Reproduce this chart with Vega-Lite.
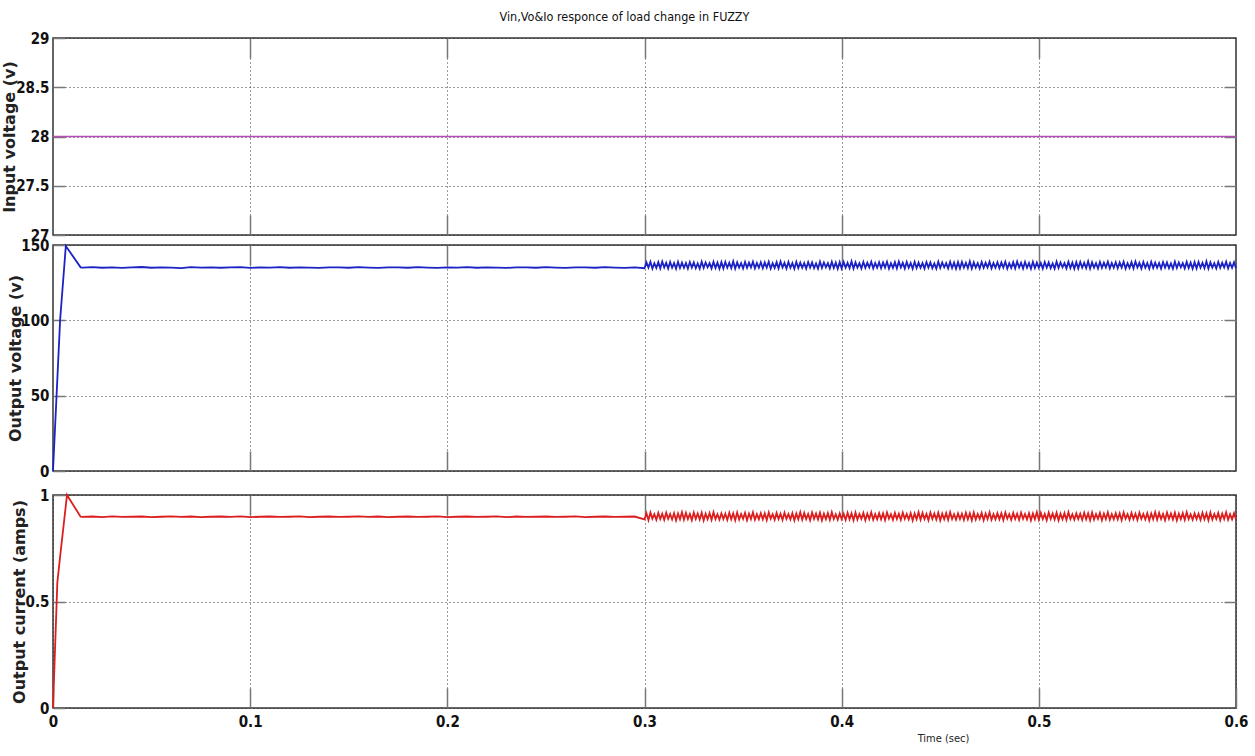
{
"$schema": "https://vega.github.io/schema/vega-lite/v6.json",
"padding": {"left": 0, "top": 10, "right": 2, "bottom": 2},
"background": "white",
"title": {"text": "Vin,Vo&Io responce of load change in FUZZY", "font": "DejaVu Sans Condensed, Liberation Sans", "fontSize": 12.5, "fontWeight": "normal", "color": "#111", "anchor": "middle", "offset": 7},
"bounds": "flush",
"spacing": 10,
"config": {
  "view": {"stroke": "#333", "strokeWidth": 1.5},
  "axis": {"labelFont": "DejaVu Sans Condensed, Liberation Sans", "labelFontWeight": "bold", "labelFontSize": 15, "labelColor": "#111", "labelFlush": false, "labelOverlap": false, "domain": false, "grid": true, "gridColor": "#222", "gridDash": [1, 3], "gridWidth": 1, "gridOpacity": 0.9, "tickColor": "#777", "tickWidth": 1.5, "titleFont": "DejaVu Sans", "titleFontWeight": "bold", "titleFontSize": 16, "titleColor": "#222"}
},
"datasets": {
  "vin": [{"t": 0, "v": 28}, {"t": 0.6, "v": 28}],
  "sig": [
{"t":0,"vo":0,"io":0},{"t":0.0022,"vo":61,"io":0.59},{"t":0.0036,"vo":100,"io":0.71},{"t":0.0065,"vo":149.3,"io":0.95},{"t":0.0071,"vo":148.2,"io":1.0},{"t":0.014,"vo":135.2,"io":0.898},
{"t":0.015,"vo":135.0,"io":0.897},{"t":0.02,"vo":135.3,"io":0.899},{"t":0.025,"vo":134.9,"io":0.896},{"t":0.03,"vo":135.2,"io":0.9},{"t":0.035,"vo":134.8,"io":0.897},{"t":0.04,"vo":135.1,"io":0.898},{"t":0.045,"vo":135.4,"io":0.899},{"t":0.05,"vo":134.9,"io":0.896},{"t":0.055,"vo":135.2,"io":0.898},{"t":0.06,"vo":135.0,"io":0.9},
{"t":0.065,"vo":134.7,"io":0.897},{"t":0.07,"vo":135.3,"io":0.899},{"t":0.075,"vo":135.0,"io":0.896},{"t":0.08,"vo":135.2,"io":0.898},{"t":0.085,"vo":134.9,"io":0.899},{"t":0.09,"vo":135.1,"io":0.897},{"t":0.095,"vo":135.3,"io":0.9},{"t":0.1,"vo":134.8,"io":0.896},{"t":0.105,"vo":135.1,"io":0.898},{"t":0.11,"vo":135.0,"io":0.899},
{"t":0.115,"vo":135.3,"io":0.897},{"t":0.12,"vo":134.9,"io":0.898},{"t":0.125,"vo":135.2,"io":0.9},{"t":0.13,"vo":135.0,"io":0.896},{"t":0.135,"vo":134.8,"io":0.898},{"t":0.14,"vo":135.2,"io":0.899},{"t":0.145,"vo":135.1,"io":0.897},{"t":0.15,"vo":134.9,"io":0.898},{"t":0.155,"vo":135.3,"io":0.9},{"t":0.16,"vo":135.0,"io":0.897},
{"t":0.165,"vo":134.8,"io":0.899},{"t":0.17,"vo":135.2,"io":0.896},{"t":0.175,"vo":135.1,"io":0.898},{"t":0.18,"vo":134.9,"io":0.899},{"t":0.185,"vo":135.3,"io":0.897},{"t":0.19,"vo":135.0,"io":0.898},{"t":0.195,"vo":134.8,"io":0.9},{"t":0.2,"vo":135.2,"io":0.896},{"t":0.205,"vo":135.0,"io":0.898},{"t":0.21,"vo":135.3,"io":0.899},
{"t":0.215,"vo":134.9,"io":0.897},{"t":0.22,"vo":135.1,"io":0.898},{"t":0.225,"vo":135.0,"io":0.9},{"t":0.23,"vo":134.8,"io":0.896},{"t":0.235,"vo":135.2,"io":0.899},{"t":0.24,"vo":135.1,"io":0.897},{"t":0.245,"vo":134.9,"io":0.898},{"t":0.25,"vo":135.3,"io":0.899},{"t":0.255,"vo":135.0,"io":0.897},{"t":0.26,"vo":134.8,"io":0.898},
{"t":0.265,"vo":135.2,"io":0.9},{"t":0.27,"vo":135.1,"io":0.896},{"t":0.275,"vo":134.9,"io":0.898},{"t":0.28,"vo":135.3,"io":0.899},{"t":0.285,"vo":135.0,"io":0.897},{"t":0.29,"vo":134.8,"io":0.898},{"t":0.295,"vo":135.2,"io":0.899},
{"t":0.300,"vo":134.6,"io":0.886},{"t":0.301,"vo":138.4,"io":0.914},{"t":0.302,"vo":135.0,"io":0.882},{"t":0.303,"vo":138.9,"io":0.918},{"t":0.304,"vo":134.3,"io":0.889},{"t":0.305,"vo":137.9,"io":0.910},{"t":0.306,"vo":134.8,"io":0.884},{"t":0.307,"vo":138.6,"io":0.916},{"t":0.308,"vo":134.5,"io":0.887},{"t":0.309,"vo":139.0,"io":0.912},
{"t":0.310,"vo":135.1,"io":0.883},{"t":0.311,"vo":138.2,"io":0.917},{"t":0.312,"vo":134.4,"io":0.888},{"t":0.313,"vo":138.7,"io":0.911},{"t":0.314,"vo":134.9,"io":0.885},{"t":0.315,"vo":138.0,"io":0.915},{"t":0.316,"vo":134.2,"io":0.881},{"t":0.317,"vo":138.8,"io":0.913},{"t":0.318,"vo":134.7,"io":0.886},{"t":0.319,"vo":138.3,"io":0.919},
{"t":0.320,"vo":134.9,"io":0.884},{"t":0.321,"vo":138.1,"io":0.916},{"t":0.322,"vo":134.4,"io":0.887},{"t":0.323,"vo":138.7,"io":0.911},{"t":0.324,"vo":135.0,"io":0.882},{"t":0.325,"vo":138.5,"io":0.918},{"t":0.326,"vo":134.6,"io":0.888},{"t":0.327,"vo":137.8,"io":0.913},{"t":0.328,"vo":134.3,"io":0.885},{"t":0.329,"vo":138.9,"io":0.917},
{"t":0.330,"vo":134.8,"io":0.881},{"t":0.331,"vo":138.4,"io":0.912},{"t":0.332,"vo":135.2,"io":0.886},{"t":0.333,"vo":138.0,"io":0.915},{"t":0.334,"vo":134.5,"io":0.883},{"t":0.335,"vo":138.8,"io":0.919},{"t":0.336,"vo":134.7,"io":0.887},{"t":0.337,"vo":138.3,"io":0.910},{"t":0.338,"vo":134.2,"io":0.884},{"t":0.339,"vo":138.6,"io":0.914},
{"t":0.340,"vo":134.5,"io":0.887},{"t":0.341,"vo":138.8,"io":0.912},{"t":0.342,"vo":134.9,"io":0.883},{"t":0.343,"vo":138.2,"io":0.917},{"t":0.344,"vo":134.6,"io":0.886},{"t":0.345,"vo":139.1,"io":0.914},{"t":0.346,"vo":134.3,"io":0.881},{"t":0.347,"vo":138.5,"io":0.918},{"t":0.348,"vo":135.0,"io":0.885},{"t":0.349,"vo":137.9,"io":0.911},
{"t":0.350,"vo":134.4,"io":0.888},{"t":0.351,"vo":138.7,"io":0.916},{"t":0.352,"vo":134.8,"io":0.882},{"t":0.353,"vo":138.3,"io":0.913},{"t":0.354,"vo":135.1,"io":0.887},{"t":0.355,"vo":138.9,"io":0.919},{"t":0.356,"vo":134.5,"io":0.884},{"t":0.357,"vo":138.1,"io":0.910},{"t":0.358,"vo":134.9,"io":0.886},{"t":0.359,"vo":138.6,"io":0.915},
{"t":0.360,"vo":134.6,"io":0.886},{"t":0.361,"vo":138.4,"io":0.914},{"t":0.362,"vo":135.0,"io":0.882},{"t":0.363,"vo":138.9,"io":0.918},{"t":0.364,"vo":134.3,"io":0.889},{"t":0.365,"vo":137.9,"io":0.910},{"t":0.366,"vo":134.8,"io":0.884},{"t":0.367,"vo":138.6,"io":0.916},{"t":0.368,"vo":134.5,"io":0.887},{"t":0.369,"vo":139.0,"io":0.912},
{"t":0.370,"vo":135.1,"io":0.883},{"t":0.371,"vo":138.2,"io":0.917},{"t":0.372,"vo":134.4,"io":0.888},{"t":0.373,"vo":138.7,"io":0.911},{"t":0.374,"vo":134.9,"io":0.885},{"t":0.375,"vo":138.0,"io":0.915},{"t":0.376,"vo":134.2,"io":0.881},{"t":0.377,"vo":138.8,"io":0.913},{"t":0.378,"vo":134.7,"io":0.886},{"t":0.379,"vo":138.3,"io":0.919},
{"t":0.380,"vo":134.9,"io":0.884},{"t":0.381,"vo":138.1,"io":0.916},{"t":0.382,"vo":134.4,"io":0.887},{"t":0.383,"vo":138.7,"io":0.911},{"t":0.384,"vo":135.0,"io":0.882},{"t":0.385,"vo":138.5,"io":0.918},{"t":0.386,"vo":134.6,"io":0.888},{"t":0.387,"vo":137.8,"io":0.913},{"t":0.388,"vo":134.3,"io":0.885},{"t":0.389,"vo":138.9,"io":0.917},
{"t":0.390,"vo":134.8,"io":0.881},{"t":0.391,"vo":138.4,"io":0.912},{"t":0.392,"vo":135.2,"io":0.886},{"t":0.393,"vo":138.0,"io":0.915},{"t":0.394,"vo":134.5,"io":0.883},{"t":0.395,"vo":138.8,"io":0.919},{"t":0.396,"vo":134.7,"io":0.887},{"t":0.397,"vo":138.3,"io":0.910},{"t":0.398,"vo":134.2,"io":0.884},{"t":0.399,"vo":138.6,"io":0.914},
{"t":0.400,"vo":134.5,"io":0.887},{"t":0.401,"vo":138.8,"io":0.912},{"t":0.402,"vo":134.9,"io":0.883},{"t":0.403,"vo":138.2,"io":0.917},{"t":0.404,"vo":134.6,"io":0.886},{"t":0.405,"vo":139.1,"io":0.914},{"t":0.406,"vo":134.3,"io":0.881},{"t":0.407,"vo":138.5,"io":0.918},{"t":0.408,"vo":135.0,"io":0.885},{"t":0.409,"vo":137.9,"io":0.911},
{"t":0.410,"vo":134.4,"io":0.888},{"t":0.411,"vo":138.7,"io":0.916},{"t":0.412,"vo":134.8,"io":0.882},{"t":0.413,"vo":138.3,"io":0.913},{"t":0.414,"vo":135.1,"io":0.887},{"t":0.415,"vo":138.9,"io":0.919},{"t":0.416,"vo":134.5,"io":0.884},{"t":0.417,"vo":138.1,"io":0.910},{"t":0.418,"vo":134.9,"io":0.886},{"t":0.419,"vo":138.6,"io":0.915},
{"t":0.420,"vo":134.6,"io":0.886},{"t":0.421,"vo":138.4,"io":0.914},{"t":0.422,"vo":135.0,"io":0.882},{"t":0.423,"vo":138.9,"io":0.918},{"t":0.424,"vo":134.3,"io":0.889},{"t":0.425,"vo":137.9,"io":0.910},{"t":0.426,"vo":134.8,"io":0.884},{"t":0.427,"vo":138.6,"io":0.916},{"t":0.428,"vo":134.5,"io":0.887},{"t":0.429,"vo":139.0,"io":0.912},
{"t":0.430,"vo":135.1,"io":0.883},{"t":0.431,"vo":138.2,"io":0.917},{"t":0.432,"vo":134.4,"io":0.888},{"t":0.433,"vo":138.7,"io":0.911},{"t":0.434,"vo":134.9,"io":0.885},{"t":0.435,"vo":138.0,"io":0.915},{"t":0.436,"vo":134.2,"io":0.881},{"t":0.437,"vo":138.8,"io":0.913},{"t":0.438,"vo":134.7,"io":0.886},{"t":0.439,"vo":138.3,"io":0.919},
{"t":0.440,"vo":134.9,"io":0.884},{"t":0.441,"vo":138.1,"io":0.916},{"t":0.442,"vo":134.4,"io":0.887},{"t":0.443,"vo":138.7,"io":0.911},{"t":0.444,"vo":135.0,"io":0.882},{"t":0.445,"vo":138.5,"io":0.918},{"t":0.446,"vo":134.6,"io":0.888},{"t":0.447,"vo":137.8,"io":0.913},{"t":0.448,"vo":134.3,"io":0.885},{"t":0.449,"vo":138.9,"io":0.917},
{"t":0.450,"vo":134.8,"io":0.881},{"t":0.451,"vo":138.4,"io":0.912},{"t":0.452,"vo":135.2,"io":0.886},{"t":0.453,"vo":138.0,"io":0.915},{"t":0.454,"vo":134.5,"io":0.883},{"t":0.455,"vo":138.8,"io":0.919},{"t":0.456,"vo":134.7,"io":0.887},{"t":0.457,"vo":138.3,"io":0.910},{"t":0.458,"vo":134.2,"io":0.884},{"t":0.459,"vo":138.6,"io":0.914},
{"t":0.460,"vo":134.5,"io":0.887},{"t":0.461,"vo":138.8,"io":0.912},{"t":0.462,"vo":134.9,"io":0.883},{"t":0.463,"vo":138.2,"io":0.917},{"t":0.464,"vo":134.6,"io":0.886},{"t":0.465,"vo":139.1,"io":0.914},{"t":0.466,"vo":134.3,"io":0.881},{"t":0.467,"vo":138.5,"io":0.918},{"t":0.468,"vo":135.0,"io":0.885},{"t":0.469,"vo":137.9,"io":0.911},
{"t":0.470,"vo":134.4,"io":0.888},{"t":0.471,"vo":138.7,"io":0.916},{"t":0.472,"vo":134.8,"io":0.882},{"t":0.473,"vo":138.3,"io":0.913},{"t":0.474,"vo":135.1,"io":0.887},{"t":0.475,"vo":138.9,"io":0.919},{"t":0.476,"vo":134.5,"io":0.884},{"t":0.477,"vo":138.1,"io":0.910},{"t":0.478,"vo":134.9,"io":0.886},{"t":0.479,"vo":138.6,"io":0.915},
{"t":0.480,"vo":134.6,"io":0.886},{"t":0.481,"vo":138.4,"io":0.914},{"t":0.482,"vo":135.0,"io":0.882},{"t":0.483,"vo":138.9,"io":0.918},{"t":0.484,"vo":134.3,"io":0.889},{"t":0.485,"vo":137.9,"io":0.910},{"t":0.486,"vo":134.8,"io":0.884},{"t":0.487,"vo":138.6,"io":0.916},{"t":0.488,"vo":134.5,"io":0.887},{"t":0.489,"vo":139.0,"io":0.912},
{"t":0.490,"vo":135.1,"io":0.883},{"t":0.491,"vo":138.2,"io":0.917},{"t":0.492,"vo":134.4,"io":0.888},{"t":0.493,"vo":138.7,"io":0.911},{"t":0.494,"vo":134.9,"io":0.885},{"t":0.495,"vo":138.0,"io":0.915},{"t":0.496,"vo":134.2,"io":0.881},{"t":0.497,"vo":138.8,"io":0.913},{"t":0.498,"vo":134.7,"io":0.886},{"t":0.499,"vo":138.3,"io":0.919},
{"t":0.500,"vo":134.9,"io":0.884},{"t":0.501,"vo":138.1,"io":0.916},{"t":0.502,"vo":134.4,"io":0.887},{"t":0.503,"vo":138.7,"io":0.911},{"t":0.504,"vo":135.0,"io":0.882},{"t":0.505,"vo":138.5,"io":0.918},{"t":0.506,"vo":134.6,"io":0.888},{"t":0.507,"vo":137.8,"io":0.913},{"t":0.508,"vo":134.3,"io":0.885},{"t":0.509,"vo":138.9,"io":0.917},
{"t":0.510,"vo":134.8,"io":0.881},{"t":0.511,"vo":138.4,"io":0.912},{"t":0.512,"vo":135.2,"io":0.886},{"t":0.513,"vo":138.0,"io":0.915},{"t":0.514,"vo":134.5,"io":0.883},{"t":0.515,"vo":138.8,"io":0.919},{"t":0.516,"vo":134.7,"io":0.887},{"t":0.517,"vo":138.3,"io":0.910},{"t":0.518,"vo":134.2,"io":0.884},{"t":0.519,"vo":138.6,"io":0.914},
{"t":0.520,"vo":134.5,"io":0.887},{"t":0.521,"vo":138.8,"io":0.912},{"t":0.522,"vo":134.9,"io":0.883},{"t":0.523,"vo":138.2,"io":0.917},{"t":0.524,"vo":134.6,"io":0.886},{"t":0.525,"vo":139.1,"io":0.914},{"t":0.526,"vo":134.3,"io":0.881},{"t":0.527,"vo":138.5,"io":0.918},{"t":0.528,"vo":135.0,"io":0.885},{"t":0.529,"vo":137.9,"io":0.911},
{"t":0.530,"vo":134.4,"io":0.888},{"t":0.531,"vo":138.7,"io":0.916},{"t":0.532,"vo":134.8,"io":0.882},{"t":0.533,"vo":138.3,"io":0.913},{"t":0.534,"vo":135.1,"io":0.887},{"t":0.535,"vo":138.9,"io":0.919},{"t":0.536,"vo":134.5,"io":0.884},{"t":0.537,"vo":138.1,"io":0.910},{"t":0.538,"vo":134.9,"io":0.886},{"t":0.539,"vo":138.6,"io":0.915},
{"t":0.540,"vo":134.6,"io":0.886},{"t":0.541,"vo":138.4,"io":0.914},{"t":0.542,"vo":135.0,"io":0.882},{"t":0.543,"vo":138.9,"io":0.918},{"t":0.544,"vo":134.3,"io":0.889},{"t":0.545,"vo":137.9,"io":0.910},{"t":0.546,"vo":134.8,"io":0.884},{"t":0.547,"vo":138.6,"io":0.916},{"t":0.548,"vo":134.5,"io":0.887},{"t":0.549,"vo":139.0,"io":0.912},
{"t":0.550,"vo":135.1,"io":0.883},{"t":0.551,"vo":138.2,"io":0.917},{"t":0.552,"vo":134.4,"io":0.888},{"t":0.553,"vo":138.7,"io":0.911},{"t":0.554,"vo":134.9,"io":0.885},{"t":0.555,"vo":138.0,"io":0.915},{"t":0.556,"vo":134.2,"io":0.881},{"t":0.557,"vo":138.8,"io":0.913},{"t":0.558,"vo":134.7,"io":0.886},{"t":0.559,"vo":138.3,"io":0.919},
{"t":0.560,"vo":134.9,"io":0.884},{"t":0.561,"vo":138.1,"io":0.916},{"t":0.562,"vo":134.4,"io":0.887},{"t":0.563,"vo":138.7,"io":0.911},{"t":0.564,"vo":135.0,"io":0.882},{"t":0.565,"vo":138.5,"io":0.918},{"t":0.566,"vo":134.6,"io":0.888},{"t":0.567,"vo":137.8,"io":0.913},{"t":0.568,"vo":134.3,"io":0.885},{"t":0.569,"vo":138.9,"io":0.917},
{"t":0.570,"vo":134.8,"io":0.881},{"t":0.571,"vo":138.4,"io":0.912},{"t":0.572,"vo":135.2,"io":0.886},{"t":0.573,"vo":138.0,"io":0.915},{"t":0.574,"vo":134.5,"io":0.883},{"t":0.575,"vo":138.8,"io":0.919},{"t":0.576,"vo":134.7,"io":0.887},{"t":0.577,"vo":138.3,"io":0.910},{"t":0.578,"vo":134.2,"io":0.884},{"t":0.579,"vo":138.6,"io":0.914},
{"t":0.580,"vo":134.5,"io":0.887},{"t":0.581,"vo":138.8,"io":0.912},{"t":0.582,"vo":134.9,"io":0.883},{"t":0.583,"vo":138.2,"io":0.917},{"t":0.584,"vo":134.6,"io":0.886},{"t":0.585,"vo":139.1,"io":0.914},{"t":0.586,"vo":134.3,"io":0.881},{"t":0.587,"vo":138.5,"io":0.918},{"t":0.588,"vo":135.0,"io":0.885},{"t":0.589,"vo":137.9,"io":0.911},
{"t":0.590,"vo":134.4,"io":0.888},{"t":0.591,"vo":138.7,"io":0.916},{"t":0.592,"vo":134.8,"io":0.882},{"t":0.593,"vo":138.3,"io":0.913},{"t":0.594,"vo":135.1,"io":0.887},{"t":0.595,"vo":138.9,"io":0.919},{"t":0.596,"vo":134.5,"io":0.884},{"t":0.597,"vo":138.1,"io":0.910},{"t":0.598,"vo":134.9,"io":0.886},{"t":0.599,"vo":138.6,"io":0.915},
{"t":0.600,"vo":134.6,"io":0.886}
  ]
},
"vconcat": [
  {
    "width": 1183, "height": 197,
    "data": {"name": "vin"},
    "layer": [
      {"mark": {"type": "line", "color": "#b84cb8", "strokeWidth": 1.5},
       "encoding": {
         "x": {"field": "t", "type": "quantitative", "scale": {"domain": [0, 0.6], "nice": false, "zero": false}, "axis": {"orient": "bottom", "values": [0.1, 0.2, 0.3, 0.4, 0.5], "labels": false, "title": null, "tickSize": -20}},
         "y": {"field": "v", "type": "quantitative", "scale": {"domain": [27, 29], "nice": false, "zero": false}, "axis": {"orient": "left", "values": [27, 27.5, 28, 28.5, 29], "format": "~r", "title": "Input voltage (v)", "titleX": -36, "tickSize": -12, "labelPadding": 16}}
       }},
      {"mark": {"type": "line", "opacity": 0},
       "encoding": {
         "x": {"field": "t", "type": "quantitative", "axis": {"orient": "top", "values": [0.1, 0.2, 0.3, 0.4, 0.5], "labels": false, "title": null, "grid": false, "tickSize": -20}},
         "y": {"field": "v", "type": "quantitative", "axis": {"orient": "right", "values": [27.5, 28, 28.5], "labels": false, "title": null, "grid": false, "tickSize": -12}}
       }}
    ],
    "resolve": {"axis": {"x": "independent", "y": "independent"}}
  },
  {
    "width": 1183, "height": 226,
    "data": {"name": "sig"},
    "layer": [
      {"mark": {"type": "line", "color": "#1c22c4", "strokeWidth": 1.8},
       "encoding": {
         "x": {"field": "t", "type": "quantitative", "scale": {"domain": [0, 0.6], "nice": false, "zero": false}, "axis": {"orient": "bottom", "values": [0.1, 0.2, 0.3, 0.4, 0.5], "labels": false, "title": null, "tickSize": -20}},
         "y": {"field": "vo", "type": "quantitative", "scale": {"domain": [0, 150], "nice": false}, "axis": {"orient": "left", "values": [0, 50, 100, 150], "format": "~r", "title": "Output voltage (v)", "titleX": -30, "tickSize": -12, "labelPadding": 16}}
       }},
      {"mark": {"type": "line", "opacity": 0},
       "encoding": {
         "x": {"field": "t", "type": "quantitative", "axis": {"orient": "top", "values": [0.1, 0.2, 0.3, 0.4, 0.5], "labels": false, "title": null, "grid": false, "tickSize": -20}},
         "y": {"field": "vo", "type": "quantitative", "axis": {"orient": "right", "values": [50, 100], "labels": false, "title": null, "grid": false, "tickSize": -12}}
       }}
    ],
    "resolve": {"axis": {"x": "independent", "y": "independent"}}
  },
  {
    "width": 1183, "height": 4,
    "data": {"values": [{"s": 0}]},
    "mark": {"type": "point", "opacity": 0},
    "view": {"stroke": null}
  },
  {
    "width": 1183, "height": 213,
    "data": {"name": "sig"},
    "layer": [
      {"mark": {"type": "line", "color": "#dc1e1e", "strokeWidth": 1.8},
       "encoding": {
         "x": {"field": "t", "type": "quantitative", "scale": {"domain": [0, 0.6], "nice": false, "zero": false}, "axis": {"orient": "bottom", "values": [0, 0.1, 0.2, 0.3, 0.4, 0.5, 0.6], "format": "~r", "title": "Time (sec)", "titleX": 890, "titleY": 30, "titleBaseline": "middle", "titleFont": "DejaVu Sans Condensed, Liberation Sans", "titleFontWeight": "normal", "titleFontSize": 11, "tickSize": -20, "labelPadding": 26}},
         "y": {"field": "io", "type": "quantitative", "scale": {"domain": [0, 1], "nice": false}, "axis": {"orient": "left", "values": [0, 0.5, 1], "format": "~r", "title": "Output current (amps)", "titleX": -26, "tickSize": -12, "labelPadding": 16}}
       }},
      {"mark": {"type": "line", "opacity": 0},
       "encoding": {
         "x": {"field": "t", "type": "quantitative", "axis": {"orient": "top", "values": [0.1, 0.2, 0.3, 0.4, 0.5], "labels": false, "title": null, "grid": false, "tickSize": -20}},
         "y": {"field": "io", "type": "quantitative", "axis": {"orient": "right", "values": [0.5], "labels": false, "title": null, "grid": false, "tickSize": -12}}
       }}
    ],
    "resolve": {"axis": {"x": "independent", "y": "independent"}}
  }
]
}
